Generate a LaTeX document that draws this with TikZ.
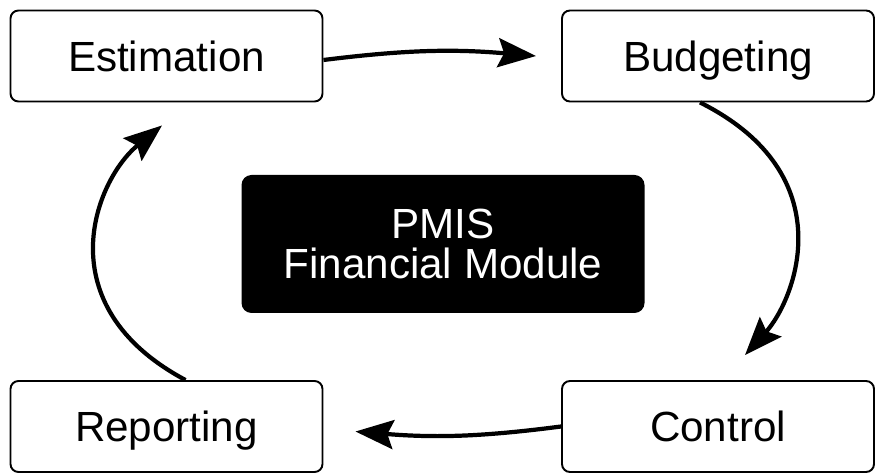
\documentclass[tikz,border=0pt]{standalone}
\usepackage{fontspec}
\setmainfont{Liberation Sans}
\usetikzlibrary{arrows.meta, positioning}
\definecolor{ink}{HTML}{000000}
\definecolor{hubc}{HTML}{000000}
\tikzset{
  stage/.style={draw=ink, fill=white, line width=1.1pt, rounded corners=0.16cm,
                minimum width=6.24cm, minimum height=1.82cm, inner sep=0pt,
                font=\fontsize{24}{26}\selectfont, text height=17.5pt, text depth=0pt},
  hub/.style={fill=hubc, text=white, rounded corners=0.2cm, align=center,
              minimum width=8.06cm, minimum height=2.76cm, inner sep=0pt,
              font=\fontsize{24}{23}\selectfont},
  flow/.style={-{Stealth[length=0.76cm, width=0.58cm, inset=0.12cm]}, line width=2.4pt, ink},
}

\begin{document}
\begin{tikzpicture}[x=1cm, y=1cm]
\useasboundingbox (0,0) rectangle (17.5,9.5);

% ---------------- the four stages ----------------
\node[stage] (est) at (3.33,8.38) {Estimation};
\node[stage] (bud) at (14.36,8.38) {Budgeting};
\node[stage] (ctl) at (14.36,0.97) {Control};
\node[stage] (rep) at (3.33,0.97) {Reporting};

% the module in the middle
\node[hub] (pmis) at (8.86,4.62) {PMIS\\Financial Module};

% ---------------- the cycle ----------------
\draw[flow] ([yshift=-0.08cm]est.east) to[bend left=6] ([xshift=-0.5cm]bud.west);
\draw[flow] ([xshift=-0.36cm]bud.south) .. controls (16.9,6.0) and (15.9,3.5) .. ([xshift=0.54cm, yshift=0.5cm]ctl.north);
\draw[flow] (ctl.west) to[bend left=6] ([xshift=0.64cm, yshift=-0.1cm]rep.east);
\draw[flow] ([xshift=0.38cm]rep.north) .. controls (0.9,3.4) and (1.9,5.9) .. ([xshift=-0.09cm, yshift=-0.46cm]est.south);
\end{tikzpicture}
\end{document}
